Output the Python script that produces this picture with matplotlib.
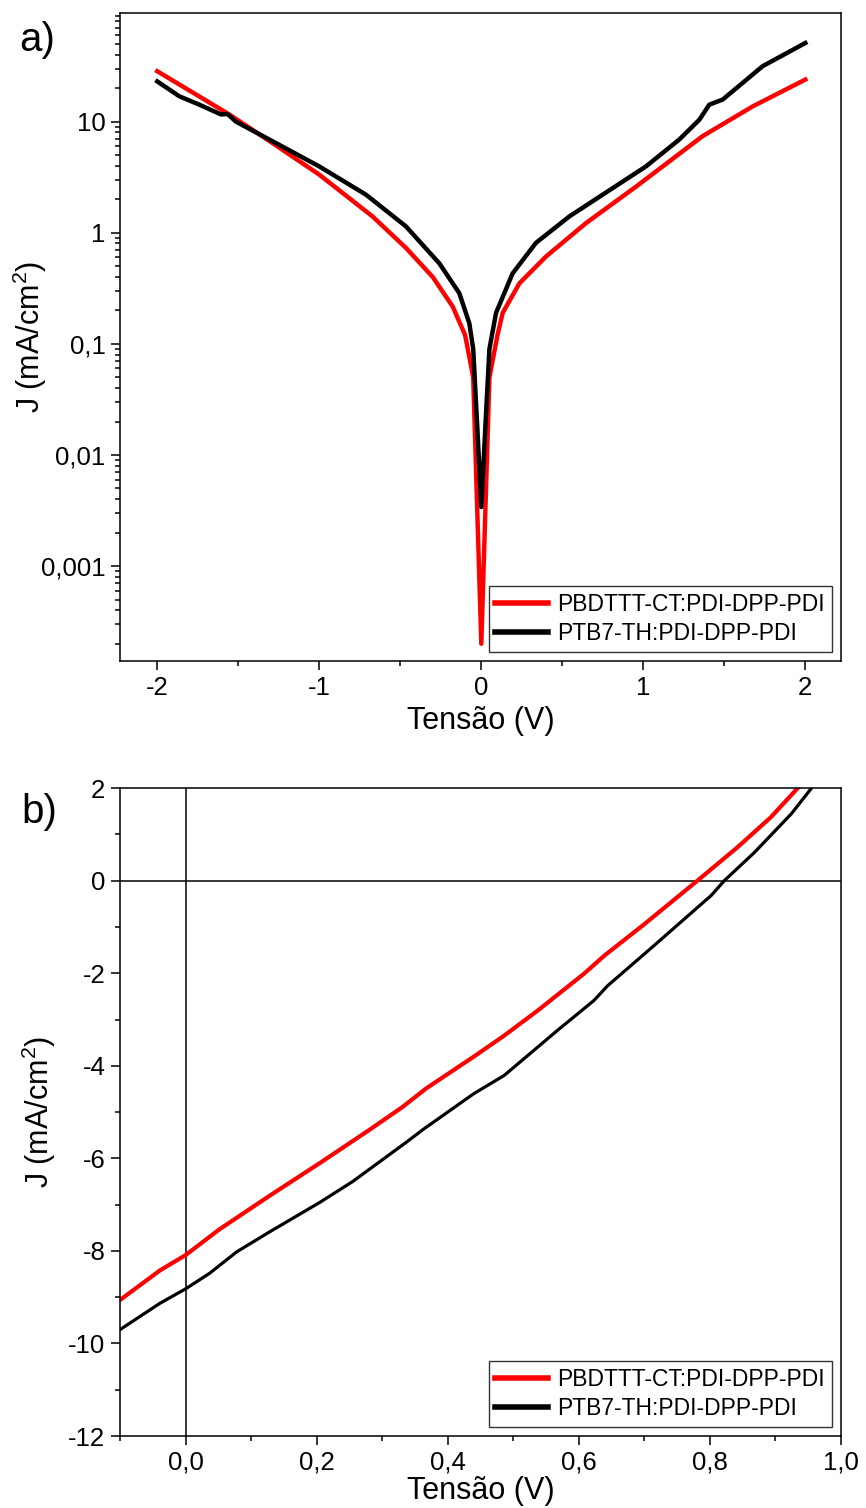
import numpy as np
import matplotlib.pyplot as plt
from matplotlib.ticker import FixedLocator, LogLocator, FuncFormatter, MultipleLocator

plt.rcParams['font.family'] = ['Liberation Sans', 'DejaVu Sans']
plt.rcParams['mathtext.fontset'] = 'custom'
plt.rcParams['mathtext.rm'] = 'Liberation Sans'
plt.rcParams['mathtext.it'] = 'Liberation Sans:italic'
plt.rcParams['axes.unicode_minus'] = False

labels = ["PBDTTT-CT:PDI-DPP-PDI", "PTB7-TH:PDI-DPP-PDI"]

# a) dark J-V, log scale
red_v_a = [-2.0, -1.556, -1.288, -1.0, -0.671, -0.465, -0.30, -0.177, -0.1, -0.05, 0.0,
           0.05, 0.1, 0.132, 0.235, 0.399, 0.646, 0.955, 1.366, 1.675, 2.0]
red_j_a = [28.4, 11.6, 6.4, 3.33, 1.40, 0.73, 0.40, 0.217, 0.12, 0.05, 0.0002,
           0.05, 0.12, 0.19, 0.35, 0.61, 1.22, 2.6, 7.4, 13.7, 23.9]

black_v_a = [-2.0, -1.864, -1.74, -1.607, -1.566, -1.515, -1.288, -1.0, -0.712, -0.465,
             -0.259, -0.136, -0.074, -0.05, -0.025, 0.0, 0.025, 0.05, 0.091, 0.193,
             0.337, 0.543, 0.749, 1.016, 1.222, 1.346, 1.407, 1.49, 1.613, 1.736, 2.0]
black_j_a = [23.0, 16.9, 14.2, 11.6, 11.7, 10.0, 6.65, 3.95, 2.2, 1.14,
             0.53, 0.286, 0.153, 0.09, 0.018, 0.0034, 0.018, 0.09, 0.19, 0.43,
             0.81, 1.40, 2.2, 3.95, 6.9, 10.4, 14.2, 15.8, 22.3, 31.5, 51.0]

# b) illuminated J-V
red_v_b = [-0.1, -0.039, 0.0, 0.052, 0.128, 0.205, 0.281, 0.331, 0.367, 0.44, 0.486,
           0.537, 0.608, 0.639, 0.700, 0.781, 0.842, 0.893, 0.934]
red_j_b = [-9.06, -8.42, -8.09, -7.53, -6.81, -6.10, -5.38, -4.89, -4.49, -3.80, -3.35,
           -2.81, -2.01, -1.62, -0.94, 0.0, 0.72, 1.37, 2.0]

black_v_b = [-0.1, -0.039, 0.0, 0.037, 0.078, 0.128, 0.205, 0.255, 0.337, 0.362, 0.44,
             0.486, 0.537, 0.567, 0.623, 0.644, 0.715, 0.802, 0.822, 0.868, 0.924, 0.954]
black_j_b = [-9.70, -9.13, -8.82, -8.48, -8.02, -7.59, -6.95, -6.50, -5.65, -5.38, -4.60,
             -4.21, -3.60, -3.24, -2.59, -2.27, -1.40, -0.32, 0.0, 0.61, 1.44, 1.98]

fig = plt.figure(figsize=(8.66, 15.08), dpi=100)
ax1 = fig.add_axes([0.1386, 0.5617, 0.8325, 0.4297])
ax2 = fig.add_axes([0.1386, 0.0477, 0.8325, 0.4297])

tick_fs = 18.5
label_fs = 22


def style(ax):
    for sp in ax.spines.values():
        sp.set_linewidth(1.1)
    ax.tick_params(which='major', direction='out', length=6.5, width=1.1,
                   labelsize=tick_fs, top=False, right=False, pad=4)
    ax.tick_params(which='minor', direction='out', length=3.5, width=1.1,
                   top=False, right=False)


def add_legend(ax):
    leg = ax.legend(loc='lower right', fontsize=16.5, frameon=True, fancybox=False,
                    edgecolor='black', handlelength=2.3, handletextpad=0.4,
                    borderaxespad=0.4, borderpad=0.3, labelspacing=0.25)
    leg.get_frame().set_linewidth(1.0)
    for h in leg.get_lines():
        h.set_linewidth(4.0)


# panel a
ax1.plot(red_v_a, red_j_a, color='#ff0000', lw=3.2, label=labels[0], solid_joinstyle='round')
ax1.plot(black_v_a, black_j_a, color='black', lw=3.2, label=labels[1], solid_joinstyle='round')
ax1.set_yscale('log')
ax1.set_xlim(-2.23, 2.22)
ax1.set_ylim(1.4e-4, 95)
ax1.yaxis.set_major_locator(FixedLocator([1e-3, 1e-2, 1e-1, 1, 10]))
ax1.yaxis.set_major_formatter(FuncFormatter(lambda x, p: ('%g' % x).replace('.', ',')))
ax1.yaxis.set_minor_locator(LogLocator(base=10, subs=np.arange(2, 10), numticks=20))
ax1.yaxis.set_minor_formatter(FuncFormatter(lambda x, p: ''))
ax1.xaxis.set_major_locator(MultipleLocator(1))
ax1.xaxis.set_minor_locator(MultipleLocator(0.5))
style(ax1)
ax1.set_xlabel('Tensão (V)', fontsize=label_fs, labelpad=5)
ax1.set_ylabel('J (mA/cm$^2$)', fontsize=label_fs)
ax1.yaxis.set_label_coords(-0.098, 0.5)
add_legend(ax1)
fig.text(0.022, 0.966, 'a)', fontsize=29)

# panel b
ax2.axhline(0, color='black', lw=1.1, zorder=1)
ax2.axvline(0, color='black', lw=1.1, zorder=1)
ax2.plot(red_v_b, red_j_b, color='#ff0000', lw=3.0, label=labels[0])
ax2.plot(black_v_b, black_j_b, color='black', lw=2.3, label=labels[1])
ax2.set_xlim(-0.1, 1.0)
ax2.set_ylim(-12, 2)
ax2.xaxis.set_major_locator(MultipleLocator(0.2))
ax2.xaxis.set_minor_locator(MultipleLocator(0.1))
ax2.xaxis.set_major_formatter(FuncFormatter(lambda x, p: ('%.1f' % x).replace('.', ',')))
ax2.yaxis.set_major_locator(MultipleLocator(2))
ax2.yaxis.set_minor_locator(MultipleLocator(1))
ax2.yaxis.set_major_formatter(FuncFormatter(lambda x, p: '%d' % round(x)))
style(ax2)
ax2.set_xlabel('Tensão (V)', fontsize=label_fs, labelpad=1)
ax2.set_ylabel('J (mA/cm$^2$)', fontsize=label_fs)
ax2.yaxis.set_label_coords(-0.086, 0.5)
add_legend(ax2)
fig.text(0.025, 0.454, 'b)', fontsize=29)

fig.savefig('out.png', dpi=100)
